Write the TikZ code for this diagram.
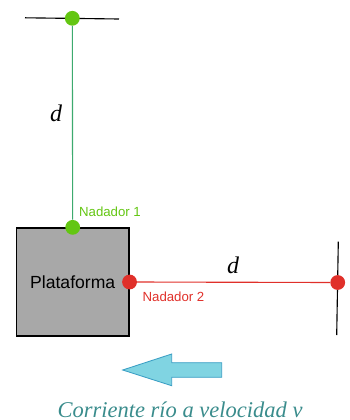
\documentclass[tikz,border=0pt]{standalone}
\usepackage{fontspec}
\setmainfont{Liberation Serif}
\setsansfont{Liberation Sans}
\usetikzlibrary{positioning}
\definecolor{swimgreen}{HTML}{63C612}
\definecolor{ropegreen}{HTML}{3DAA6E}
\definecolor{swimred}{HTML}{E0302A}
\definecolor{platgray}{HTML}{A8A8A8}
\definecolor{riverfill}{HTML}{80D4E2}
\definecolor{riverline}{HTML}{3A9EC4}
\definecolor{captionteal}{HTML}{3A8C8C}

\begin{document}
\begin{tikzpicture}[x=0.025cm,y=-0.025cm,
    dot/.style={circle,inner sep=0pt,minimum size=0.37cm},
    swimlabel/.style={font=\sffamily\fontsize{9.4}{11}\selectfont,anchor=base},
    dlabel/.style={font=\itshape\fontsize{17}{20}\selectfont,anchor=base}]
  \useasboundingbox (0,0) rectangle (349,420);
  % plataforma
  \node[draw=black,line width=0.9pt,fill=platgray,minimum width=2.81cm,minimum height=2.7cm,
    inner sep=0pt,font=\sffamily\fontsize{12.5}{14}\selectfont] (plat) at (72.7,282) {Plataforma};
  % orillas
  \coordinate (topL) at (25,17.8);
  \coordinate (topR) at (119,19);
  \coordinate (rightT) at (338.3,241.7);
  \coordinate (rightB) at (336.7,335);
  \draw[black,line width=0.8pt] (topL) -- (topR);
  \draw[black,line width=0.8pt] (rightT) -- (rightB);
  % nadadores
  \node[dot,fill=swimgreen] (n1) at (plat.north) {};
  \node[dot,fill=swimgreen] (g1) at (72.3,18.3) {};
  \node[dot,fill=swimred] (n2) at (plat.east) {};
  \node[dot,fill=swimred] (r2) at (337.7,282.5) {};
  \draw[ropegreen,line width=0.8pt] (g1) -- (n1);
  \draw[swimred,line width=0.8pt] (n2) -- (r2);
  \node[swimlabel,text=swimgreen] (lab1) at (110,216.7) {Nadador 1};
  \node[swimlabel,text=swimred] (lab2) at (173.5,301) {Nadador 2};
  \node[dlabel] (d1) at (56,121.7) {d};
  \node[dlabel] (d2) at (233,273.3) {d};
  % corriente
  \filldraw[fill=riverfill,draw=riverline,line width=0.6pt]
    (221.7,362.7) -- (171.7,362.7) -- (171.7,354) -- (122.7,370)
    -- (171.7,385.7) -- (171.7,377.3) -- (221.7,377.3) -- cycle;
  \node[font=\itshape\fontsize{16}{19}\selectfont,text=captionteal,anchor=base] (cap) at (180,417)
    {Corriente río a velocidad v};
\end{tikzpicture}
\end{document}
